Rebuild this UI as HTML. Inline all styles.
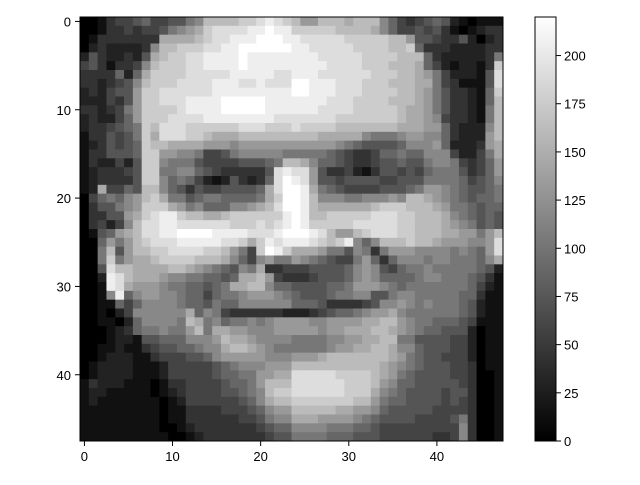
<!DOCTYPE html>
<html><head><meta charset="utf-8"><style>
body{margin:0;background:#fff}
svg text{font-family:"Liberation Sans","DejaVu Sans",sans-serif;font-size:13px;fill:#000}
</style></head><body>
<svg id="chart" width="640" height="480" viewBox="0 0 640 480" xmlns="http://www.w3.org/2000/svg">
<g id="cells"></g>
<rect x="80" y="17" width="423" height="424" fill="none" stroke="#000" stroke-width="1"/>
<g id="xticks"></g>
<g id="yticks"></g>
<defs><linearGradient id="cbg" x1="0" y1="1" x2="0" y2="0"><stop offset="0" stop-color="#000"/><stop offset="1" stop-color="#fff"/></linearGradient></defs>
<rect x="535" y="17" width="21" height="424" fill="url(#cbg)" stroke="#000" stroke-width="1"/>
<g id="cbticks"></g>
</svg>
<script>
const leftRows=["00134456445578bbbbccdedc","0013343445789acddddeefee","013333333aaaabcddeeefffe","023222238bbcccddeeffffff","25322325abccddeeeefeeeee","45313348bcccddeeeefeeeee","3333626accccdddddeeeeedd","3323458bcccddddeeeddeddd","2324559ccddddddeeeeeeeee","2224359ccdddeeeefffffeee","3323479ccccdeeeefffffeee","2322469cccddddeeeeeeeedd","2334567cbdddccccccdddccc","1335457cadddccbaaabbbbbb","1235456cbbaaaa9998999999","1335556cc998874457888887","1322425cc87775444455567b","1233345cc7788654333335de","1233335cc8676421253236df","12a4465bb865354455556adf","0467689bca77567766667acf","0355789ccca978666889abdf","033559acdeecbbaabcccccce","034248bddeeddddddcccdcde","01569abddeeffffeeeedddef","006979bcdddeeeeeddcacede","007b59bbccddddccb974cfec","007c79aabccccbbba8648977","005dbbaaaabba9876587a334","002edbaaa988776656aab943","001eda99987766567aabb866","0018e6899887664677899987","001164688887665766888888","001024888888a68743333332","001102688887ba7867787899","0001236778779b7aa9988899","0001221556668889baa98888","0011211345566788abba9877","001222113444556899999888","012222111244444567888999","0122221112444445667799aa","132221110133444456679bbb","122111110123444455678bcc","121111111012444444568abb","111111111011333344456899","111111111011333333445788","111111111001233333334566","111111111100123333333455"];
const rightRows=["b99bbbabbb86434565210111","cccccbbbba86445453101233","edddddcccccbb95543352023","eedddddccccbbc6333222233","eeedddddccccbbb632222237","eeeeddddcccbbba64212213c","eeeddddddcccbba97422215d","ffeeedddcccbbbaa7431115d","ffeeedddccccbba97533216c","eeeedddccccbbba97533216b","eeeddddcccccbaa97533217b","dddddcccccccbaa98433217b","dccccbbbbbbbaaa99632228b","bbbaaaaa877789988632229b","99999876555568889622239a","77776543346676688842247a","ba8665433455655788743469","dd9533421355454677753469","ed9554555544555777764568","fea765444455567998765567","feb8887788898bba98765667","febaaaaaabcccbbba9776566","febbcccccdddccbbba876565","fecccccdddddccbbba987565","ffedb99bcdddccbbbaa9979b","eedcbce868bbbcbba999889d","aaa97758737999888878769d","98765447963688878877768a","445555689854677877777652","334555689866667887776531","555566799987677777776421","655567788557887777766311","666533334588987877765211","22345667899a877777765211","99889999aabb987766654111","999899aaabba987665552011","77778899aabb775555442011","7777899aabba886555442011","999abbbbbbba976554442011","bbbbbbbbbba9876555443011","dddddccccba9765555443001","ddddddcccb98665555543001","ddddddccca87655554553001","cccccccbb976655554543001","bbbbbaa99865555544443001","aaa999987655554444573001","888877766544444444483001","777766655544444433483001"];
const xTickValues=[0,10,20,30,40];
const yTickValues=[0,10,20,30,40];
const cbTickValues=[0,25,50,75,100,125,150,175,200];
const vmax=220;
const NS="http://www.w3.org/2000/svg";
const X0=80,Y0=17,W=423,H=424,N=48;
const cw=W/N,ch=H/N;
function xPos(c){return X0+c*cw;}
function yPos(r){return Y0+r*ch;}
function cbY(v){return 441-v/vmax*424;}
function mk(t,a,p){const e=document.createElementNS(NS,t);for(const k in a)e.setAttribute(k,a[k]);p.appendChild(e);return e;}
const cells=document.getElementById('cells');
for(let r=0;r<N;r++){
  const s=(leftRows[r]+rightRows[r]).padEnd(N,'0').slice(0,N);
  for(let c=0;c<N;c++){
    const v=parseInt(s[c],16)*vmax/15;
    const g=Math.round(v/vmax*255);
    const e=mk('rect',{x:xPos(c).toFixed(2),y:yPos(r).toFixed(2),width:(cw+0.4).toFixed(2),height:(ch+0.4).toFixed(2),fill:`rgb(${g},${g},${g})`},cells);
    
    
  }
}
const xt=document.getElementById('xticks');
xTickValues.forEach(v=>{
  const x=xPos(v+0.5);
  const l=mk('line',{x1:x,x2:x,y1:441,y2:446,stroke:'#000'},xt);
  
  
  const t=mk('text',{x:x,y:461,'text-anchor':'middle'},xt);t.textContent=v;
  
  
});
const yt=document.getElementById('yticks');
yTickValues.forEach(v=>{
  const y=yPos(v+0.5);
  const l=mk('line',{x1:75,x2:80,y1:y,y2:y,stroke:'#000'},yt);
  
  
  const t=mk('text',{x:71,y:y+5,'text-anchor':'end'},yt);t.textContent=v;
  
  
});
const cb=document.getElementById('cbticks');
cbTickValues.forEach(v=>{
  const y=cbY(v);
  const l=mk('line',{x1:556,x2:561,y1:y,y2:y,stroke:'#000'},cb);
  
  
  const t=mk('text',{x:564,y:y+5},cb);t.textContent=v;
  
  
});
</script>
</body></html>
